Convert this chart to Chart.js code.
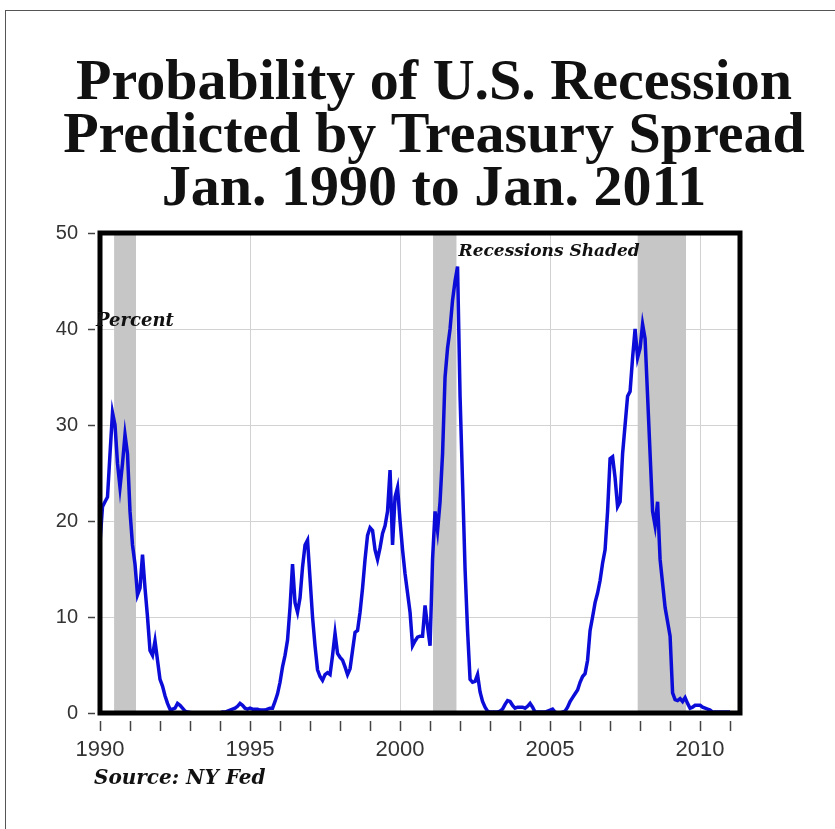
<!DOCTYPE html>
<html>
<head>
<meta charset="utf-8">
<script src="https://cdn.jsdelivr.net/npm/chart.js@4.4.0/dist/chart.umd.min.js"></script>
<style>
  html, body { margin: 0; padding: 0; background: #fff; }
  #wrap { position: relative; width: 835px; height: 829px; overflow: hidden; }
  #page-edge { position: absolute; left: 5px; top: 10px; width: 840px; height: 840px;
    border-left: 1px solid #555; border-top: 1px solid #555; pointer-events: none; }
</style>
</head>
<body>
<div id="wrap">
  <canvas id="recession-chart" width="835" height="829"></canvas>
  <div id="page-edge"></div>
</div>
<script>
const startYear = 1990;

// monthly probability (%), Jan 1990 .. Jan 2011
const probability = [
  // 1990
  17.8, 21.5, 22, 22.5, 27, 31.3, 30, 26, 23.5, 26, 29, 27,
  // 1991
  21, 17.5, 15.5, 12.3, 13, 16.5, 13, 10, 6.5, 6, 7.5, 5.5,
  // 1992
  3.5, 2.8, 1.8, 1.0, 0.4, 0.4, 0.5, 1.0, 0.8, 0.5, 0.2, 0.1,
  // 1993
  0.05, 0, 0, 0, 0, 0, 0, 0, 0, 0, 0, 0,
  // 1994
  0, 0.1, 0.1, 0.2, 0.3, 0.4, 0.5, 0.7, 1.0, 0.8, 0.5, 0.4,
  // 1995
  0.5, 0.4, 0.4, 0.4, 0.3, 0.3, 0.3, 0.4, 0.5, 0.5, 1.2, 2.0,
  // 1996
  3.2, 4.8, 6.0, 7.6, 11, 15.5, 11.5, 10.5, 12, 15.2, 17.5, 18,
  // 1997
  14, 10, 7, 4.5, 3.8, 3.4, 4, 4.2, 4.0, 6, 8.3, 6.2,
  // 1998
  5.8, 5.5, 4.8, 4, 4.6, 6.5, 8.4, 8.6, 10.5, 13, 16, 18.5,
  // 1999
  19.3, 19, 17, 16, 17.2, 18.7, 19.5, 21, 25.3, 17.5, 22.5, 23.5,
  // 2000
  20, 17, 14.5, 12.5, 10.5, 7.0, 7.5, 7.9, 8.0, 8.0, 11.2, 9.0,
  // 2001
  7.0, 16, 21, 19, 22, 27, 35, 38, 40, 43, 45, 46.5,
  // 2002
  33, 24, 15, 8.6, 3.5, 3.2, 3.3, 4.0, 2.2, 1.2, 0.6, 0.2,
  // 2003
  0.1, 0.1, 0.1, 0.1, 0.2, 0.4, 0.9, 1.3, 1.2, 0.8, 0.5, 0.6,
  // 2004
  0.6, 0.6, 0.5, 0.7, 1.0, 0.6, 0.1, 0.1, 0.1, 0.1, 0.1, 0.2,
  // 2005
  0.3, 0.4, 0.1, 0, 0, 0.1, 0.2, 0.6, 1.2, 1.6, 2.0, 2.4,
  // 2006
  3.2, 3.8, 4.1, 5.5, 8.6, 10, 11.5, 12.5, 13.8, 15.6, 17, 21,
  // 2007
  26.5, 26.7, 24.5, 21.5, 22, 27, 30, 33, 33.5, 37, 40, 37,
  // 2008
  38, 40.5, 39, 33, 27, 21, 19.5, 22, 16, 13.5, 11, 9.5,
  // 2009
  8, 2.1, 1.4, 1.3, 1.5, 1.2, 1.6, 1.0, 0.5, 0.6, 0.8, 0.8,
  // 2010
  0.8, 0.6, 0.5, 0.4, 0.3, 0.1, 0.1, 0.1, 0.1, 0.1, 0.1, 0.1,
  // 2011
  0.1
];

// NBER recessions (decimal years)
const recessionStart = [1990.47, 2001.1, 2007.92];
const recessionEnd = [1991.2, 2001.88, 2009.53];

const yTicks = [0, 10, 20, 30, 40, 50];
const labelYears = [1990, 1995, 2000, 2005, 2010];

const titleLines = ['Probability of U.S. Recession', 'Predicted by Treasury Spread', 'Jan. 1990 to Jan. 2011'];

const points = probability.map((v, i) => ({ x: startYear + i / 12, y: v }));

// title is centred a bit right of the canvas middle, as in the original
const titleBlock = {
  id: 'titleBlock',
  afterDraw(chart) {
    const { ctx } = chart;
    ctx.save();
    ctx.fillStyle = '#111';
    ctx.font = 'bold 58px "Liberation Serif"';
    ctx.textAlign = 'center';
    ctx.textBaseline = 'alphabetic';
    titleLines.forEach((line, i) => ctx.fillText(line, 434, 99 + i * 53));
    ctx.restore();
  }
};

const recessionShading = {
  id: 'recessionShading',
  beforeDatasetsDraw(chart) {
    const { ctx, chartArea, scales: { x } } = chart;
    ctx.save();
    ctx.fillStyle = '#c6c6c6';
    recessionStart.forEach((start, i) => {
      const x1 = x.getPixelForValue(start);
      const x2 = x.getPixelForValue(recessionEnd[i]);
      ctx.fillRect(x1, chartArea.top, x2 - x1, chartArea.bottom - chartArea.top);
    });
    ctx.restore();
  }
};

const plotFrame = {
  id: 'plotFrame',
  afterDatasetsDraw(chart) {
    const { ctx, chartArea } = chart;
    ctx.save();
    ctx.strokeStyle = '#000';
    ctx.lineWidth = 5;
    ctx.strokeRect(chartArea.left, chartArea.top, chartArea.width, chartArea.height);
    ctx.restore();
  }
};

const notes = {
  id: 'notes',
  afterDraw(chart) {
    const { ctx, chartArea, scales: { x, y } } = chart;
    ctx.save();
    ctx.fillStyle = '#111';
    ctx.textBaseline = 'alphabetic';
    ctx.font = 'italic bold 18px "DejaVu Serif"';
    ctx.fillText('Percent', chartArea.left - 4, y.getPixelForValue(40.3));
    ctx.font = 'italic bold 17px "DejaVu Serif"';
    ctx.fillText('Recessions Shaded', x.getPixelForValue(2001.95), y.getPixelForValue(47.6));
    ctx.font = 'italic bold 20px "DejaVu Serif"';
    ctx.fillText('Source: NY Fed', chartArea.left - 6, chartArea.bottom + 71);
    ctx.restore();
  }
};

new Chart(document.getElementById('recession-chart'), {
  type: 'line',
  data: {
    datasets: [{
      data: points,
      borderColor: '#0c0cd8',
      borderWidth: 3.5,
      pointRadius: 0,
      tension: 0,
      fill: false
    }]
  },
  options: {
    responsive: false,
    animation: false,
    devicePixelRatio: 1,
    layout: { padding: { left: 55, right: 95, top: 233, bottom: 66 } },
    plugins: {
      legend: { display: false },
      tooltip: { enabled: false },
      title: { display: false }
    },
    scales: {
      x: {
        type: 'linear',
        min: 1990,
        max: 2011.33,
        afterFit(scale) { scale.height = 50; },
        border: { display: false },
        grid: {
          color: (c) => labelYears.includes(c.tick.value) ? '#d2d2d2' : 'rgba(0,0,0,0)',
          tickColor: '#444',
          tickLength: 18,
          tickWidth: 1.5,
          tickBorderDash: [0, 8, 10, 60]
        },
        ticks: {
          stepSize: 1,
          includeBounds: false,
          autoSkip: false,
          maxRotation: 0,
          padding: 6,
          color: '#333',
          font: { family: '"Liberation Sans Narrow", "Liberation Sans", Arial', size: 22 },
          callback: (v) => labelYears.includes(v) ? String(v) : ''
        }
      },
      y: {
        min: 0,
        max: 50,
        afterFit(scale) { scale.width = 45; },
        afterBuildTicks(scale) { scale.ticks = yTicks.map(v => ({ value: v })); },
        border: { display: false },
        grid: {
          color: '#d2d2d2',
          tickColor: '#444',
          tickLength: 12,
          tickWidth: 1.5,
          tickBorderDash: [7, 30]
        },
        ticks: {
          padding: 10,
          color: '#333',
          font: { family: '"Liberation Sans Narrow", "Liberation Sans", Arial', size: 20 }
        }
      }
    }
  },
  plugins: [recessionShading, plotFrame, notes, titleBlock]
});
</script>
</body>
</html>
